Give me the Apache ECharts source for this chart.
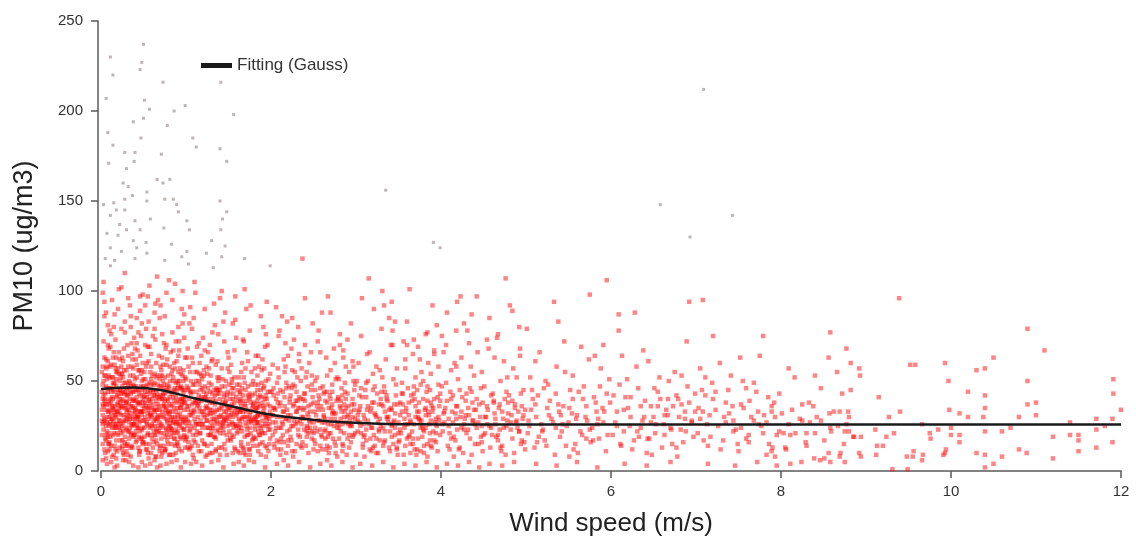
<!DOCTYPE html>
<html>
<head>
<meta charset="utf-8">
<title>PM10 vs wind speed</title>
<script src="https://cdn.jsdelivr.net/npm/echarts@6/dist/echarts.min.js"></script>
<style>
  html, body { margin: 0; padding: 0; background: #fff; }
  #chart { width: 1136px; height: 542px; }
</style>
</head>
<body>
<div id="chart"></div>
<script>
// Axis ticks
const windTicks = [0, 2, 4, 6, 8, 10, 12];
const pm10Ticks = [0, 50, 100, 150, 200, 250];

// Hourly observations, stored as flat [wind speed (m/s), PM10 (ug/m3), ...] pairs
const obs_0_05 = [
0.02,31,0.05,18,0.08,44,0.11,27,0.14,52,0.17,12,0.2,38,0.23,23,0.26,61,0.29,35,
0.32,9,0.35,47,0.38,29,0.41,16,0.44,56,0.47,33,0.03,72,0.06,25,0.09,39,0.12,14,
0.15,48,0.18,30,0.21,66,0.24,21,0.27,43,0.3,11,0.33,37,0.36,58,0.39,26,0.42,41,
0.45,19,0.48,50,0.01,34,0.04,63,0.07,22,0.1,46,0.13,8,0.16,36,0.19,55,0.22,28,
0.25,17,0.28,44,0.31,70,0.34,32,0.37,13,0.4,51,0.43,24,0.46,38,0.49,60,0.02,15,
0.05,53,0.08,81,0.11,40,0.14,20,0.17,33,0.2,57,0.23,45,0.26,10,0.29,28,0.32,64,
0.35,36,0.38,19,0.41,47,0.44,30,0.47,75,0.03,42,0.06,88,0.09,26,0.12,59,0.15,34,
0.18,7,0.21,43,0.24,31,0.27,68,0.3,23,0.33,50,0.36,14,0.39,39,0.42,85,0.45,27,
0.48,45,0.01,55,0.04,12,0.07,37,0.1,78,0.13,29,0.16,49,0.19,21,0.22,62,0.25,35,
0.28,16,0.31,42,0.34,92,0.37,25,0.4,33,0.43,67,0.46,11,0.49,40,0.02,99,0.05,28,
0.08,61,0.11,19,0.14,45,0.17,73,0.2,26,0.23,36,0.26,52,0.29,6,0.32,31,0.35,80,
0.38,48,0.41,22,0.44,37,0.47,18,0.03,105,0.06,47,0.09,15,0.12,32,0.15,66,0.18,41,
0.21,24,0.24,54,0.27,9,0.3,38,0.33,27,0.36,71,0.39,44,0.42,17,0.45,56,0.48,23,
0.01,20,0.04,39,0.07,58,0.1,30,0.13,95,0.16,24,0.19,42,0.22,13,0.25,47,0.28,83,
0.31,29,0.34,53,0.37,36,0.4,20,0.43,31,0.46,64,0.49,15,0.02,48,0.05,37,0.08,11,
0.11,69,0.14,35,0.17,26,0.2,90,0.23,17,0.26,39,0.29,49,0.32,22,0.35,13,0.38,57,
0.41,34,0.44,77,0.47,42,0.03,27,0.06,7,0.09,53,0.12,44,0.15,21,0.18,63,0.21,35,
0.24,102,0.27,28,0.3,46,0.33,18,0.36,30,0.39,74,0.42,52,0.45,9,0.48,33,0.04,86,
0.07,30,0.1,16,0.13,41,0.16,59,0.19,33,0.22,50,0.25,25,0.28,110,0.31,14,0.34,40,
0.37,62,0.4,27,0.43,45,0.46,97,0.49,24,0.06,34,0.12,76,0.18,17,0.24,40,0.3,56,
0.07,4,0.19,3,0.33,5,0.44,2,0.26,6,0.12,5,0.38,3,0.02,6,0.48,5,0.16,2
];
const obs_05_1 = [
0.51,28,0.54,41,0.57,15,0.6,53,0.63,33,0.66,22,0.69,47,0.72,10,0.75,36,0.78,62,
0.81,25,0.84,44,0.87,18,0.9,31,0.93,57,0.96,39,0.99,13,0.52,70,0.55,35,0.58,24,
0.61,45,0.64,8,0.67,29,0.7,58,0.73,40,0.76,19,0.79,33,0.82,66,0.85,27,0.88,49,
0.91,14,0.94,37,0.97,23,0.5,51,0.53,12,0.56,83,0.59,30,0.62,42,0.65,17,0.68,64,
0.71,26,0.74,48,0.77,35,0.8,9,0.83,54,0.86,21,0.89,38,0.92,72,0.95,29,0.98,45,
0.51,19,0.54,60,0.57,36,0.6,25,0.63,88,0.66,43,0.69,11,0.72,31,0.75,52,0.78,20,
0.81,41,0.84,77,0.87,30,0.9,16,0.93,46,0.96,27,0.99,63,0.52,38,0.55,21,0.58,55,
0.61,13,0.64,34,0.67,95,0.7,24,0.73,43,0.76,68,0.79,15,0.82,36,0.85,50,0.88,26,
0.91,80,0.94,18,0.97,40,0.5,33,0.53,47,0.56,7,0.59,65,0.62,28,0.65,39,0.68,22,
0.71,56,0.74,14,0.77,99,0.8,32,0.83,23,0.86,45,0.89,61,0.92,12,0.95,37,0.98,74,
0.51,42,0.54,26,0.57,69,0.6,18,0.63,49,0.66,30,0.69,85,0.72,40,0.75,11,0.78,27,
0.81,58,0.84,33,0.87,104,0.9,21,0.93,35,0.96,53,0.99,17,0.52,92,0.55,44,0.58,31,
0.61,75,0.64,20,0.67,37,0.7,14,0.73,59,0.76,29,0.79,46,0.82,24,0.85,67,0.88,10,
0.91,39,0.94,54,0.97,28,0.5,16,0.53,79,0.56,34,0.59,48,0.62,22,0.65,60,0.68,36,
0.71,8,0.74,71,0.77,23,0.8,44,0.83,15,0.86,35,0.89,27,0.92,50,0.95,90,0.98,19,
0.51,55,0.54,12,0.57,40,0.6,31,0.63,25,0.66,108,0.69,34,0.72,63,0.75,43,0.78,17,
0.81,30,0.84,21,0.87,57,0.9,46,0.93,26,0.96,82,0.99,38,0.55,97,0.65,52,0.75,86,
0.58,4,0.7,3,0.83,5,0.94,2,0.63,6,0.77,4,0.89,6,0.52,3,0.99,5,0.66,2
];
const obs_0_1b = [
0.03,23,0.07,46,0.1,12,0.13,36,0.17,57,0.2,20,0.24,43,0.27,31,0.31,15,0.34,49,
0.38,26,0.41,62,0.45,38,0.48,18,0.52,44,0.56,29,0.59,10,0.63,54,0.66,34,0.7,21,
0.73,42,0.77,59,0.8,25,0.84,37,0.87,14,0.91,48,0.94,30,0.98,20,0.02,40,0.06,17,
0.09,68,0.12,29,0.16,44,0.19,11,0.23,52,0.26,27,0.3,39,0.33,22,0.37,65,0.4,35,
0.44,13,0.47,47,0.51,24,0.55,69,0.58,32,0.62,16,0.65,45,0.69,27,0.72,53,0.76,12,
0.79,39,0.83,23,0.86,60,0.9,35,0.93,19,0.97,43,0.01,28,0.04,53,0.08,19,0.11,34,
0.15,80,0.18,24,0.22,45,0.25,14,0.29,38,0.32,58,0.36,21,0.39,47,0.43,30,0.46,89,
0.5,38,0.53,15,0.57,49,0.6,26,0.64,73,0.67,31,0.71,18,0.74,46,0.78,28,0.81,9,
0.85,52,0.88,33,0.92,67,0.95,24,0.99,41,0.04,94,0.14,63,0.21,101,0.28,77,0.35,86,
0.42,71,0.49,98,0.56,61,0.63,79,0.7,92,0.77,70,0.84,95,0.91,64,0.98,87,0.08,70,
0.16,87,0.24,79,0.32,96,0.4,68,0.48,82,0.57,103,0.64,93,0.72,76,0.8,106,0.88,72,
0.96,100,0.06,62,0.13,52,0.2,33,0.27,49,0.34,24,0.41,39,0.48,56,0.55,20,0.62,37,
0.69,51,0.76,34,0.83,43,0.9,22,0.97,56,0.05,43,0.11,58,0.18,51,0.25,63,0.32,43,
0.39,32,0.46,28,0.53,58,0.6,40,0.67,48,0.74,30,0.81,50,0.88,41,0.95,46,0.02,37,
0.09,33,0.16,14,0.23,38,0.3,30,0.37,44,0.44,24,0.51,35,0.58,45,0.65,28,0.72,25,
0.79,53,0.86,18,0.93,40,0.99,30,0.07,27,0.14,40,0.21,54,0.28,36,0.35,20,0.42,29,
0.49,47,0.56,39,0.63,20,0.7,42,0.77,32,0.84,27,0.91,55,0.98,34,0.03,50,0.1,25,
0.17,31,0.24,58,0.31,46,0.38,40,0.45,33,0.52,30,0.59,58,0.66,15,0.73,36,0.8,47
];
const obs_0_1c = [
0.01,44,0.04,29,0.06,57,0.09,21,0.12,38,0.14,49,0.17,25,0.2,45,0.22,32,0.25,54,
0.28,19,0.3,42,0.33,34,0.36,26,0.38,53,0.41,30,0.44,45,0.46,22,0.49,36,0.52,51,
0.54,27,0.57,43,0.6,35,0.62,48,0.65,23,0.68,41,0.7,30,0.73,50,0.76,24,0.78,40,
0.81,33,0.84,56,0.86,29,0.89,44,0.92,25,0.94,35,0.97,50,0.99,27,0.02,26,0.05,40,
0.08,33,0.1,52,0.13,24,0.16,31,0.18,47,0.21,28,0.24,36,0.26,44,0.29,24,0.32,48,
0.34,29,0.37,39,0.4,45,0.42,25,0.45,43,0.48,31,0.5,46,0.53,36,0.56,25,0.58,38,
0.61,44,0.64,29,0.66,53,0.69,40,0.72,33,0.74,21,0.77,45,0.8,37,0.82,28,0.85,41,
0.88,23,0.9,50,0.93,32,0.96,45,0.98,23,0.03,36,0.07,51,0.11,46,0.15,28,0.19,37,
0.23,26,0.27,56,0.31,34,0.35,43,0.39,20,0.43,38,0.47,54,0.51,41,0.55,32,0.59,51,
0.63,42,0.67,25,0.71,47,0.75,39,0.79,22,0.83,30,0.87,46,0.91,29,0.95,40,0.99,52,
0.02,58,0.06,20,0.1,37,0.14,26,0.18,55,0.22,40,0.26,22,0.3,33,0.34,45,0.38,35,
0.42,59,0.46,33,0.5,28,0.54,48,0.58,20,0.62,34,0.66,41,0.7,53,0.74,37,0.78,48,
0.82,19,0.86,39,0.9,27,0.94,47,0.98,38,0.05,10,0.15,9,0.25,12,0.35,8,0.45,11,
0.55,10,0.65,8,0.75,12,0.85,9,0.95,11,0.09,15,0.29,14,0.49,16,0.69,13,0.89,15
];
const obs_1_15 = [
1.01,25,1.04,40,1.07,14,1.1,33,1.13,55,1.16,21,1.19,46,1.22,30,1.25,9,1.28,38,
1.31,62,1.34,19,1.37,43,1.4,27,1.43,51,1.46,12,1.49,35,1.02,68,1.05,23,1.08,48,
1.11,16,1.14,37,1.17,28,1.2,74,1.23,41,1.26,20,1.29,53,1.32,32,1.35,11,1.38,45,
1.41,24,1.44,83,1.47,39,1.0,18,1.03,58,1.06,31,1.09,7,1.12,44,1.15,26,1.18,64,
1.21,15,1.24,36,1.27,49,1.3,22,1.33,93,1.36,34,1.39,13,1.42,57,1.45,29,1.48,42,
1.01,47,1.04,12,1.07,79,1.1,24,1.13,36,1.16,60,1.19,17,1.22,41,1.25,28,1.28,70,
1.31,10,1.34,33,1.37,52,1.4,21,1.43,38,1.46,88,1.49,25,1.02,34,1.05,55,1.08,20,
1.11,99,1.14,14,1.17,45,1.2,31,1.23,8,1.26,66,1.29,27,1.32,40,1.35,18,1.38,76,
1.41,35,1.44,23,1.47,50,1.0,29,1.03,16,1.06,43,1.09,85,1.12,26,1.15,38,1.18,11,
1.21,56,1.24,24,1.27,32,1.3,61,1.33,19,1.36,46,1.39,30,1.42,13,1.45,72,1.48,36,
1.01,63,1.04,27,1.07,37,1.1,105,1.13,22,1.16,48,1.19,33,1.22,15,1.25,54,1.28,20,
1.31,43,1.34,81,1.37,26,1.4,9,1.43,30,1.46,47,1.49,17,1.05,91,1.15,71,1.25,39,
1.35,59,1.45,28,1.02,13,1.12,50,1.22,67,1.32,24,1.42,100,1.08,32,1.18,53,1.28,44,
1.06,4,1.19,3,1.3,5,1.44,2,1.38,6,1.12,5
];
const obs_15_2 = [
1.51,22,1.54,37,1.57,13,1.6,48,1.63,28,1.66,60,1.69,19,1.72,34,1.75,9,1.78,42,
1.81,25,1.84,53,1.87,31,1.9,16,1.93,40,1.96,70,1.99,23,1.52,35,1.55,82,1.58,26,
1.61,11,1.64,44,1.67,30,1.7,57,1.73,20,1.76,38,1.79,14,1.82,64,1.85,27,1.88,45,
1.91,33,1.94,8,1.97,51,1.5,29,1.53,17,1.56,46,1.59,74,1.62,24,1.65,36,1.68,12,
1.71,90,1.74,41,1.77,27,1.8,19,1.83,35,1.86,58,1.89,22,1.92,47,1.95,30,1.98,15,
1.51,55,1.54,20,1.57,67,1.6,32,1.63,10,1.66,39,1.69,49,1.72,23,1.75,78,1.78,29,
1.81,43,1.84,14,1.87,36,1.9,62,1.93,21,1.96,31,1.99,54,1.52,18,1.55,40,1.58,97,
1.61,34,1.64,26,1.67,13,1.7,45,1.73,61,1.76,28,1.79,50,1.82,18,1.85,37,1.88,86,
1.91,25,1.94,42,1.97,11,1.5,63,1.53,31,1.56,24,1.59,41,1.62,52,1.65,16,1.68,72,
1.71,33,1.74,12,1.77,48,1.8,38,1.83,27,1.86,20,1.89,56,1.92,35,1.95,94,1.98,26,
1.54,46,1.6,21,1.66,29,1.72,66,1.78,17,1.84,39,1.9,28,1.96,44,1.57,33,1.69,101,
1.75,24,1.81,57,1.87,15,1.93,69,1.63,43,1.99,36,1.7,9,1.85,48,1.53,59,1.91,80,
1.56,4,1.68,3,1.8,5,1.93,2,1.74,6,1.62,5
];
const obs_1_2b = [
1.02,28,1.05,44,1.09,17,1.12,38,1.16,54,1.19,24,1.23,35,1.26,46,1.3,15,1.33,29,
1.37,61,1.4,40,1.44,21,1.47,33,1.51,48,1.54,27,1.58,12,1.61,39,1.65,24,1.68,52,
1.72,30,1.75,43,1.79,18,1.82,34,1.86,25,1.89,41,1.93,14,1.96,37,1.03,36,1.07,63,
1.1,48,1.14,30,1.17,21,1.21,44,1.24,58,1.28,34,1.31,25,1.35,39,1.38,23,1.42,47,
1.45,33,1.49,57,1.52,40,1.56,19,1.59,31,1.63,48,1.66,22,1.7,36,1.73,15,1.77,55,
1.8,28,1.84,45,1.87,20,1.91,32,1.94,50,1.98,29,1.01,19,1.06,33,1.11,55,1.15,42,
1.2,26,1.25,31,1.3,48,1.34,37,1.39,52,1.43,26,1.48,20,1.53,36,1.57,52,1.62,29,
1.67,42,1.71,25,1.76,33,1.81,48,1.85,22,1.9,38,1.95,28,1.99,44,1.04,82,1.13,69,
1.22,90,1.31,77,1.4,96,1.49,66,1.58,84,1.67,73,1.76,92,1.85,64,1.94,76,1.08,60,
1.18,39,1.27,57,1.36,28,1.45,43,1.54,51,1.64,33,1.73,47,1.83,30,1.92,57,1.02,45,
1.11,27,1.2,40,1.29,32,1.38,50,1.47,28,1.56,43,1.65,34,1.74,27,1.84,35,1.93,26,
1.06,50,1.16,35,1.26,24,1.36,45,1.46,38,1.55,30,1.65,55,1.75,40,1.85,31,1.95,40,
1.09,38,1.19,51,1.29,20,1.39,34,1.49,44,1.59,25,1.69,30,1.79,37,1.89,49,1.99,18
];
const obs_1_2c = [
1.01,36,1.04,22,1.07,44,1.1,29,1.13,40,1.16,33,1.19,26,1.22,47,1.25,35,1.28,24,
1.31,38,1.34,42,1.37,30,1.4,45,1.43,25,1.46,37,1.49,31,1.52,43,1.55,26,1.58,35,
1.61,22,1.64,38,1.67,33,1.7,27,1.73,42,1.76,21,1.79,36,1.82,29,1.85,41,1.88,24,
1.91,36,1.94,30,1.97,23,1.0,51,1.03,46,1.06,25,1.09,34,1.12,20,1.15,50,1.18,41,
1.21,33,1.24,28,1.27,40,1.3,34,1.33,45,1.36,22,1.39,43,1.42,36,1.45,41,1.48,30,
1.51,34,1.54,49,1.57,38,1.6,25,1.63,33,1.66,46,1.69,37,1.72,20,1.75,31,1.78,35,
1.81,23,1.84,32,1.87,42,1.9,21,1.93,31,1.96,25,1.99,33,1.05,13,1.15,11,1.25,14,
1.35,12,1.45,15,1.55,10,1.65,14,1.75,12,1.85,11,1.95,13,1.08,9,1.28,10,1.48,9,
1.68,10,1.88,9,1.11,39,1.21,53,1.31,29,1.41,31,1.51,26,1.61,45,1.71,39,1.81,30,
1.91,46,1.04,31,1.24,43,1.44,27,1.64,40,1.84,27,1.14,26,1.34,27,1.54,32,1.74,29
];
const obs_2_25 = [
2.02,20,2.05,34,2.08,12,2.11,45,2.14,26,2.17,58,2.2,17,2.23,31,2.26,8,2.29,39,
2.32,23,2.35,50,2.38,29,2.41,14,2.44,36,2.47,66,2.5,21,2.03,42,2.06,27,2.09,75,
2.12,18,2.15,33,2.18,10,2.21,47,2.24,25,2.27,37,2.3,15,2.33,61,2.36,30,2.39,43,
2.42,19,2.45,28,2.48,53,2.01,31,2.04,13,2.07,49,2.1,24,2.13,86,2.16,36,2.19,22,
2.22,40,2.25,11,2.28,55,2.31,27,2.34,35,2.37,16,2.4,70,2.43,32,2.46,24,2.49,41,
2.02,59,2.05,22,2.08,38,2.11,9,2.14,44,2.17,29,2.2,64,2.23,19,2.26,48,2.29,26,
2.32,80,2.35,14,2.38,34,2.41,52,2.44,21,2.47,37,2.5,12,2.06,91,2.12,30,2.18,46,
2.24,68,2.3,33,2.36,57,2.42,25,2.48,18,2.03,35,2.09,52,2.15,16,2.21,28,2.27,73,
2.33,41,2.39,23,2.45,60,2.01,44,2.07,17,2.19,83,2.31,39,2.43,47,2.13,27,2.25,56,
2.07,4,2.2,3,2.33,5,2.46,2,2.15,6,2.37,118
];
const obs_25_3 = [
2.52,24,2.55,38,2.58,14,2.61,47,2.64,29,2.67,19,2.7,56,2.73,33,2.76,10,2.79,41,
2.82,22,2.85,63,2.88,27,2.91,36,2.94,16,2.97,50,2.53,31,2.56,78,2.59,20,2.62,43,
2.65,12,2.68,35,2.71,26,2.74,68,2.77,39,2.8,18,2.83,46,2.86,30,2.89,9,2.92,55,
2.95,25,2.98,37,2.51,17,2.54,52,2.57,28,2.6,88,2.63,22,2.66,44,2.69,13,2.72,32,
2.75,60,2.78,24,2.81,36,2.84,15,2.87,49,2.9,73,2.93,28,2.96,40,2.99,21,2.52,45,
2.55,11,2.58,66,2.61,34,2.64,23,2.67,97,2.7,29,2.73,18,2.76,51,2.79,26,2.82,39,
2.85,14,2.88,58,2.91,31,2.94,82,2.97,20,2.57,40,2.63,27,2.69,42,2.75,16,2.81,70,
2.87,33,2.93,25,2.99,48,2.6,19,2.72,37,2.84,26,2.96,61,2.66,53,2.78,8,2.9,43,
2.58,4,2.71,3,2.84,5,2.96,2,2.66,6
];
const obs_2_3b = [
2.02,27,2.06,40,2.1,16,2.14,33,2.18,49,2.22,23,2.26,36,2.3,44,2.34,19,2.38,30,
2.42,55,2.46,27,2.5,38,2.54,22,2.58,46,2.62,31,2.66,14,2.7,40,2.74,25,2.78,52,
2.82,29,2.86,37,2.9,18,2.94,33,2.98,45,2.04,35,2.08,57,2.12,24,2.16,41,2.2,31,
2.24,17,2.28,47,2.32,35,2.36,26,2.4,43,2.44,30,2.48,22,2.52,50,2.56,34,2.6,27,
2.64,39,2.68,21,2.72,48,2.76,32,2.8,24,2.84,42,2.88,35,2.92,20,2.96,30,2.03,46,
2.07,30,2.11,38,2.15,62,2.19,34,2.23,42,2.27,28,2.31,52,2.35,40,2.39,35,2.43,24,
2.47,45,2.51,33,2.55,28,2.59,36,2.63,44,2.67,26,2.71,35,2.75,29,2.79,40,2.83,33,
2.87,44,2.91,26,2.95,37,2.99,29,2.1,78,2.25,85,2.4,96,2.55,72,2.7,88,2.85,67,
2.17,71,2.33,65,2.49,82,2.65,63,2.81,76,2.97,58
];
const obs_2_4c = [
2.02,31,2.06,24,2.1,36,2.14,20,2.18,29,2.22,38,2.26,25,2.3,33,2.34,28,2.38,40,
2.42,22,2.46,33,2.5,27,2.54,36,2.58,23,2.62,30,2.66,38,2.7,21,2.74,32,2.78,27,
2.82,35,2.86,21,2.9,30,2.94,26,2.98,34,3.02,31,3.06,21,3.1,29,3.14,36,3.18,24,
3.22,32,3.26,27,3.3,37,3.34,22,3.38,30,3.42,34,3.46,20,3.5,27,3.54,33,3.58,26,
3.62,31,3.66,22,3.7,36,3.74,29,3.78,19,3.82,31,3.86,26,3.9,33,3.94,21,3.98,28,
2.04,15,2.12,12,2.2,14,2.28,11,2.36,13,2.44,10,2.52,15,2.6,12,2.68,10,2.76,14,
2.84,11,2.92,13,3.0,9,3.08,15,3.16,12,3.24,10,3.32,14,3.4,11,3.48,13,3.56,9,
3.64,15,3.72,12,3.8,10,3.88,14,3.96,11,2.08,43,2.24,46,2.4,39,2.56,42,2.72,44,
2.88,40,3.04,42,3.2,45,3.36,40,3.52,38,3.68,43,3.84,39,2.16,55,2.48,48,2.8,51,
3.12,49,3.44,51,3.76,48,2.32,20,2.64,18,2.96,19,3.28,17,3.6,18,3.92,17,3.05,25
];
const obs_3_35 = [
3.02,22,3.05,36,3.08,13,3.11,45,3.14,28,3.17,18,3.2,54,3.23,31,3.26,10,3.29,40,
3.32,24,3.35,62,3.38,27,3.41,35,3.44,15,3.47,48,3.5,21,3.03,33,3.06,75,3.09,19,
3.12,41,3.15,26,3.18,11,3.21,38,3.24,58,3.27,23,3.3,44,3.33,16,3.36,30,3.39,85,
3.42,25,3.45,37,3.48,12,3.01,50,3.04,27,3.07,96,3.1,20,3.13,34,3.16,66,3.19,24,
3.22,14,3.25,43,3.28,29,3.31,52,3.34,17,3.37,39,3.4,22,3.43,70,3.46,32,3.49,9,
3.06,46,3.12,23,3.18,35,3.24,18,3.3,79,3.36,42,3.42,26,3.48,57,3.09,31,3.15,107,
3.21,20,3.27,37,3.33,47,3.39,13,3.45,28,3.03,60,3.21,90,3.34,33,3.46,24,3.1,8,
3.31,100,3.33,92,3.42,94,3.46,83,3.41,70,
3.05,4,3.19,3,3.32,5,3.44,2
];
const obs_35_4 = [
3.52,23,3.55,37,3.58,14,3.61,46,3.64,27,3.67,18,3.7,52,3.73,30,3.76,11,3.79,40,
3.82,24,3.85,60,3.88,28,3.91,35,3.94,16,3.97,48,3.53,21,3.56,72,3.59,33,3.62,19,
3.65,42,3.68,26,3.71,9,3.74,38,3.77,55,3.8,22,3.83,44,3.86,31,3.89,13,3.92,67,
3.95,25,3.98,36,3.51,17,3.54,49,3.57,29,3.6,83,3.63,20,3.66,39,3.69,12,3.72,33,
3.75,62,3.78,25,3.81,34,3.84,15,3.87,45,3.9,92,3.93,27,3.96,41,3.99,20,3.58,57,
3.64,10,3.7,30,3.76,24,3.82,76,3.88,38,3.94,29,3.55,43,3.61,26,3.67,65,3.73,18,
3.79,50,3.85,33,3.91,22,3.97,58,3.63,101,3.75,28,3.87,17,3.99,39,3.68,47,3.84,8,
3.84,77,3.95,81,3.6,70,3.68,73,3.92,65,
3.57,4,3.7,3,3.83,5,3.95,2
];
const obs_4_45 = [
4.02,22,4.05,35,4.08,14,4.11,44,4.14,27,4.17,17,4.2,51,4.23,30,4.26,10,4.29,39,
4.32,23,4.35,58,4.38,28,4.41,34,4.44,15,4.47,46,4.5,20,4.03,32,4.06,70,4.09,25,
4.12,40,4.15,19,4.18,36,4.21,12,4.24,63,4.27,26,4.3,43,4.33,31,4.36,9,4.39,53,
4.42,24,4.45,37,4.48,16,4.01,47,4.04,27,4.07,88,4.1,21,4.13,33,4.16,60,4.19,23,
4.22,13,4.25,41,4.28,29,4.31,78,4.34,18,4.37,38,4.4,26,4.43,66,4.46,30,4.49,11,
4.06,49,4.18,29,4.3,21,4.42,97,4.12,56,4.24,33,4.36,44,4.48,25,4.15,8,4.27,82,
4.23,97,4.19,94,4.36,87,4.18,78,4.01,75,
4.07,4,4.2,3,4.33,5,4.45,2
];
const obs_45_5 = [
4.52,21,4.55,34,4.58,13,4.61,43,4.64,26,4.67,17,4.7,50,4.73,29,4.76,9,4.79,38,
4.82,23,4.85,57,4.88,27,4.91,33,4.94,15,4.97,45,4.53,30,4.56,68,4.59,24,4.62,39,
4.65,19,4.68,35,4.71,11,4.74,61,4.77,25,4.8,42,4.83,31,4.86,10,4.89,52,4.92,22,
4.95,36,4.98,16,4.51,47,4.54,26,4.57,85,4.6,20,4.63,32,4.66,74,4.69,23,4.72,14,
4.75,40,4.78,28,4.81,92,4.84,18,4.87,37,4.9,24,4.93,64,4.96,29,4.99,12,4.76,107,
4.84,89,4.92,80,4.67,76,4.54,73,
4.57,4,4.72,3,4.86,5
];
const obs_3_5b = [
3.02,28,3.07,41,3.12,17,3.17,33,3.22,47,3.27,22,3.32,36,3.37,29,3.42,19,3.47,42,
3.52,31,3.57,24,3.62,38,3.67,15,3.72,45,3.77,28,3.82,35,3.87,21,3.92,40,3.97,30,
4.02,26,4.07,39,4.12,18,4.17,32,4.22,45,4.27,23,4.32,35,4.37,28,4.42,40,4.47,19,
4.52,30,4.57,25,4.62,38,4.67,20,4.72,33,4.77,44,4.82,27,4.87,35,4.92,22,4.97,31,
3.04,34,3.09,26,3.14,50,3.19,38,3.24,30,3.29,25,3.34,44,3.39,34,3.44,27,3.49,37,
3.54,43,3.59,35,3.64,28,3.69,40,3.74,33,3.79,23,3.84,47,3.89,36,3.94,26,3.99,43,
4.04,33,4.09,29,4.14,42,4.19,36,4.24,24,4.29,31,4.34,46,4.39,34,4.44,27,4.49,38,
4.54,36,4.59,42,4.64,29,4.69,37,4.74,24,4.79,32,4.84,39,4.89,28,4.94,43,4.99,34,
3.13,65,3.28,56,3.43,78,3.58,62,3.73,69,3.88,54,4.03,66,4.18,58,4.33,71,4.48,55,
4.63,63,4.78,52,4.93,68,3.2,13,3.5,16,3.8,14,4.1,12,4.4,15,4.7,13,4.95,17
];
const obs_5_6 = [
5.02,21,5.06,34,5.1,13,5.14,42,5.18,26,5.22,17,5.26,48,5.3,29,5.34,9,5.38,37,
5.42,22,5.46,55,5.5,27,5.54,32,5.58,15,5.62,44,5.66,20,5.7,30,5.74,62,5.78,24,
5.82,38,5.86,18,5.9,35,5.94,11,5.98,51,5.04,25,5.08,40,5.12,30,5.16,66,5.2,23,
5.24,14,5.28,39,5.32,27,5.36,58,5.4,19,5.44,36,5.48,25,5.52,45,5.56,12,5.6,31,
5.64,22,5.68,47,5.72,28,5.76,16,5.8,41,5.84,26,5.88,57,5.92,33,5.96,20,5.05,52,
5.15,19,5.25,35,5.35,24,5.45,72,5.55,40,5.65,69,5.75,98,5.85,29,5.95,43,5.33,94,
5.38,83,5.91,70,5.11,61,5.21,46,5.41,31,5.61,10,5.81,64,5.71,18,5.51,8,5.01,79,
5.12,4,5.36,3,5.6,5,5.84,2
];
const obs_6_7 = [
6.02,20,6.07,33,6.12,14,6.17,41,6.22,25,6.27,17,6.32,46,6.37,28,6.42,10,6.47,36,
6.52,21,6.57,52,6.62,26,6.67,31,6.72,15,6.77,42,6.82,23,6.87,29,6.92,38,6.97,19,
6.05,27,6.1,48,6.15,22,6.2,35,6.25,12,6.3,58,6.35,24,6.4,39,6.45,18,6.5,30,
6.55,44,6.6,13,6.65,34,6.7,24,6.75,55,6.8,30,6.85,16,6.9,47,6.95,27,6.13,64,
6.38,67,6.58,40,6.78,8,6.99,33,6.09,87,6.28,88,6.09,78,6.92,94,6.89,72,5.95,106,
6.44,61,6.63,20,6.83,37,6.23,30,6.48,9,6.68,50,6.33,19,6.53,26,6.73,36,6.88,22,
6.16,4,6.42,3,6.7,5
];
const obs_7_8 = [
7.02,21,7.08,33,7.14,14,7.2,40,7.26,25,7.32,17,7.38,45,7.44,28,7.5,11,7.56,35,
7.62,20,7.68,49,7.74,26,7.8,31,7.86,15,7.92,38,7.98,22,7.05,29,7.11,42,7.17,19,
7.23,34,7.29,12,7.35,27,7.41,53,7.47,23,7.53,37,7.59,18,7.65,30,7.71,44,7.77,25,
7.83,9,7.89,33,7.95,20,7.08,95,7.16,31,7.2,75,7.79,75,7.52,63,7.75,64,7.05,57,
7.11,52,7.55,50,7.07,45,7.35,38,7.62,16,7.85,41,7.44,22,7.68,28,7.9,13,7.28,60,
7.89,36,7.98,43,7.95,3,7.93,8,7.89,11,
7.14,4,7.46,3,7.72,5
];
const obs_5_8b = [
5.03,28,5.11,37,5.19,22,5.27,31,5.35,43,5.43,26,5.51,35,5.59,29,5.67,40,5.75,23,
5.83,33,5.91,27,5.99,38,6.07,25,6.15,34,6.23,41,6.31,22,6.39,30,6.47,27,6.55,36,
6.63,31,6.71,23,6.79,40,6.87,33,6.95,28,7.03,35,7.13,26,7.23,44,7.33,30,7.43,36,
7.53,24,7.63,39,7.73,33,7.83,27,7.93,30,5.07,45,5.23,50,5.39,33,5.55,53,5.71,36,
5.87,47,6.03,42,6.19,51,6.35,36,6.51,46,6.67,40,6.83,53,6.99,43,7.19,49,7.39,32,
7.59,46,7.79,21,5.13,16,5.47,14,5.79,17,6.11,15,6.43,18,6.77,13,7.09,17,7.49,15
];
const obs_8_10 = [
8.58,77,8.77,68,8.56,63,8.09,57,8.16,52,8.4,53,8.82,60,8.92,57,8.93,53,8.66,55,
8.47,46,8.72,43,8.82,45,9.15,41,8.01,32,8.13,34,8.25,37,8.33,38,8.38,36,8.57,32,
8.62,33,8.69,33,8.79,33,8.8,30,8.42,30,8.47,28,8.22,29,8.25,28,8.34,27,8.09,26,
8.77,26,8.67,25,8.58,24,9.4,33,9.27,30,9.66,26,9.52,59,9.58,59,9.93,60,9.97,50,
9.39,96,9.98,34,9.85,23,9.75,21,9.76,18,9.67,9,9.66,6,9.56,11,9.55,8,9.48,8,
9.49,1,9.31,1,9.33,21,9.24,19,9.2,14,9.13,14,9.12,9,9.11,23,8.94,8,8.92,10,
8.85,19,8.74,15,8.75,5,8.69,8,8.7,10,8.56,10,8.58,5,8.46,6,8.51,7,8.39,7,
8.3,14,8.29,16,8.24,5,8.11,4,8.05,13,8.06,12,8.03,21,8.11,20,8.17,21,8.3,21,
8.4,21,8.51,17,8.59,22,8.75,22,8.8,22,8.86,19,8.94,19,9.93,10,9.91,9,9.94,12
];
const obs_10_12 = [
10.2,44,10.4,57,10.5,63,10.3,56,10.4,42,10.4,35,10.1,32,10.2,30,10.9,79,11.1,67,
10.9,50,10.9,37,11.0,38,11.0,31,10.8,30,10.7,24,11.4,27,11.91,51,11.91,43,12.0,34,
11.71,29,11.81,25,11.71,23,11.5,20,11.5,17,11.5,11,11.9,16,11.71,13,11.4,20,11.2,19,
11.2,7,10.6,22,10.6,8,10.4,22,10.4,9,10.4,2,10.5,4,10.3,10,10.1,20,10.1,16,
10.0,24,10.0,20,10.38,30,10.8,12,10.89,10,11.9,29
];

// High-concentration episodes (dark markers)
const obs_high = [
0.5,237,0.11,230,0.48,227,0.46,223,0.14,220,0.73,216,1.41,216,0.06,207,0.51,206,0.99,203,
0.57,201,0.86,200,1.56,198,0.38,194,0.5,196,0.78,192,0.08,188,0.47,185,1.08,185,0.14,181,
1.12,180,1.4,179,0.28,177,0.4,177,0.71,176,0.39,172,1.48,172,0.09,171,0.3,168,0.26,160,
0.66,162,0.81,162,0.73,160,0.32,158,0.54,155,0.37,153,0.75,151,0.85,151,0.54,150,0.15,149,
0.28,151,1.4,150,0.89,148,0.03,148,0.18,145,0.28,145,0.91,144,1.48,144,0.11,142,0.4,139,
0.58,140,1.01,139,1.43,140,0.22,137,0.3,134,0.46,134,0.74,135,1.04,134,1.41,134,0.07,132,
0.2,131,0.38,128,0.53,127,0.83,126,1.3,128,1.46,125,0.11,124,0.24,122,0.42,124,0.54,121,
1.01,122,1.24,121,0.05,118,0.16,117,0.4,118,0.75,117,0.95,119,1.42,119,1.69,118,1.99,114,
1.03,115,0.11,114,1.32,113,3.35,156,7.09,212,6.58,148,7.43,142,6.93,130,3.91,127,3.99,124
];

// Gaussian fit curve, sampled along wind speed
const fitWind = [0, 0.4, 0.7, 1.1, 1.5, 1.9, 2.3, 2.7, 3.1, 3.5, 4, 6, 8, 10, 12];
const fitPm10 = [45.6, 46.4, 45.0, 40.4, 36.4, 32.1, 29.4, 27.5, 26.6, 26.0, 25.9, 25.8, 25.8, 25.8, 25.8];

function toPairs(flat) {
  const out = [];
  for (let i = 0; i + 1 < flat.length; i += 2) out.push([flat[i], flat[i + 1]]);
  return out;
}

const scatterData = [
  obs_0_05, obs_05_1, obs_0_1b, obs_0_1c, obs_1_15, obs_15_2, obs_1_2b, obs_1_2c,
  obs_2_25, obs_25_3, obs_2_3b, obs_2_4c, obs_3_35, obs_35_4, obs_4_45, obs_45_5, obs_3_5b,
  obs_5_6, obs_6_7, obs_7_8, obs_5_8b, obs_8_10, obs_10_12
].flatMap(toPairs);
const highData = toPairs(obs_high);
const fitData = fitWind.map((x, i) => [x, fitPm10[i]]);

const FONT = '"Liberation Sans", Arial, Helvetica, sans-serif';
const axisColor = '#5a5a5a';

const chart = echarts.init(document.getElementById('chart'), null, { renderer: 'canvas' });
chart.setOption({
  animation: false,
  backgroundColor: '#ffffff',
  textStyle: { fontFamily: FONT },
  grid: { left: 101, right: 15, top: 21, bottom: 69, containLabel: false },
  legend: {
    data: ['Fitting (Gauss)'],
    left: 196,
    top: 52,
    icon: 'rect',
    itemWidth: 31,
    itemHeight: 5,
    textStyle: { fontFamily: FONT, fontSize: 17, color: '#333' }
  },
  xAxis: {
    type: 'value',
    min: windTicks[0],
    max: windTicks[windTicks.length - 1],
    interval: 2,
    name: 'Wind speed (m/s)',
    nameLocation: 'middle',
    nameGap: 40,
    nameTextStyle: { fontFamily: FONT, fontSize: 26, color: '#222' },
    axisLine: { show: true, onZero: false, lineStyle: { color: axisColor, width: 1.5 } },
    axisTick: { show: true, length: 7, lineStyle: { color: axisColor, width: 1.5 } },
    axisLabel: { fontFamily: FONT, fontSize: 15, color: '#333', margin: 13 },
    splitLine: { show: false }
  },
  yAxis: {
    type: 'value',
    min: pm10Ticks[0],
    max: pm10Ticks[pm10Ticks.length - 1],
    interval: 50,
    offset: 3,
    name: 'PM10 (ug/m3)',
    nameLocation: 'middle',
    nameGap: 60,
    nameTextStyle: { fontFamily: FONT, fontSize: 27, color: '#222' },
    axisLine: { show: true, onZero: false, lineStyle: { color: axisColor, width: 1.5 } },
    axisTick: { show: true, length: 7, lineStyle: { color: axisColor, width: 1.5 } },
    axisLabel: { fontFamily: FONT, fontSize: 15, color: '#333', margin: 15 },
    splitLine: { show: false }
  },
  series: [
    {
      name: 'PM10',
      type: 'scatter',
      data: scatterData,
      symbol: 'rect',
      symbolSize: 4.5,
      itemStyle: { color: 'rgba(255,0,0,0.6)' },
      z: 2,
      silent: true
    },
    {
      name: 'PM10 high',
      type: 'scatter',
      data: highData,
      symbol: 'rect',
      symbolSize: 3,
      itemStyle: { color: 'rgba(110,85,85,0.55)' },
      z: 2,
      silent: true
    },
    {
      name: 'Fitting (Gauss)',
      type: 'line',
      data: fitData,
      smooth: 0.4,
      showSymbol: false,
      symbol: 'none',
      itemStyle: { color: '#1a1a1a' },
      lineStyle: { color: '#1a1a1a', width: 2.5 },
      z: 5,
      silent: true
    }
  ]
});
</script>
</body>
</html>
